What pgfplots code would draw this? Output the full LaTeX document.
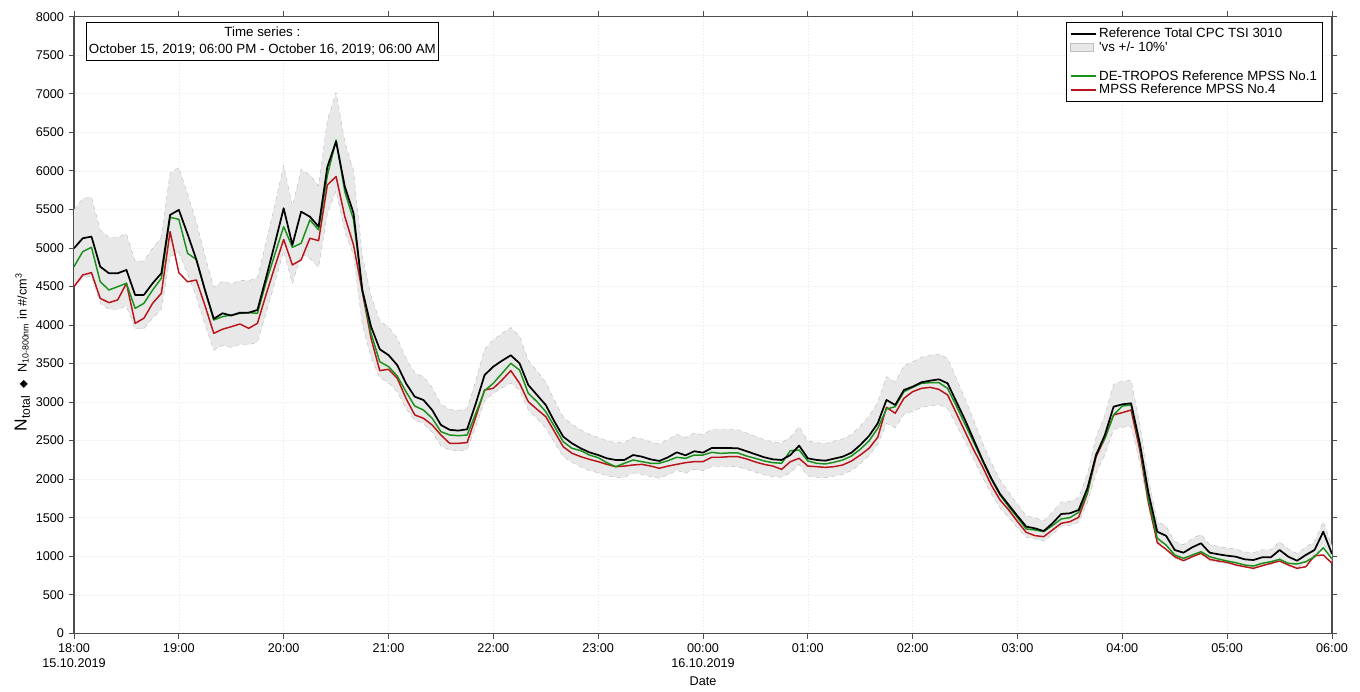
\documentclass[border=0pt]{standalone}
\usepackage{fontspec}
\setmainfont{Liberation Sans}
\newfontfamily\djv{DejaVu Sans}
\usepackage{pgfplots}
\pgfplotsset{compat=1.18}
\usepgfplotslibrary{fillbetween}
\usepackage{pgfplotstable}

\definecolor{cgreen}{RGB}{25,145,25}
\definecolor{cred}{RGB}{185,20,25}
\definecolor{bandc}{RGB}{232,232,232}

\pgfplotstableread{
i k g r
0 4995 4757 4497
1 5125 4952 4649
2 5147 5008 4679
3 4757 4562 4346
4 4671 4454 4290
5 4671 4497 4325
6 4714 4541 4541
7 4390 4216 4022
8 4390 4281 4087
9 4541 4454 4282
10 4671 4606 4411
11 5428 5397 5211
12 5493 5371 4679
13 5180 4930 4560
14 4850 4850 4584
15 4450 4450 4250
16 4080 4065 3892
17 4152 4108 3945
18 4122 4130 3978
19 4160 4151 4013
20 4160 4160 3956
21 4195 4151 4022
22 4620 4560 4400
23 5060 4920 4760
24 5514 5276 5110
25 5038 5008 4779
26 5470 5060 4844
27 5405 5363 5125
28 5276 5233 5094
29 6050 5940 5817
30 6380 6400 5925
31 5795 5730 5406
32 5450 5363 5038
33 4454 4454 4432
34 3980 3892 3828
35 3685 3524 3408
36 3610 3460 3425
37 3480 3339 3309
38 3244 3135 3049
39 3070 2949 2833
40 3027 2897 2790
41 2897 2790 2703
42 2703 2616 2573
43 2640 2573 2465
44 2630 2564 2465
45 2647 2573 2474
46 2984 2855 2811
47 3351 3148 3157
48 3460 3244 3179
49 3537 3373 3287
50 3607 3503 3408
51 3503 3416 3244
52 3222 3114 3005
53 3092 3005 2906
54 2962 2875 2811
55 2746 2681 2616
56 2551 2486 2421
57 2465 2400 2336
58 2400 2370 2292
59 2348 2313 2257
60 2313 2279 2227
61 2270 2214 2192
62 2249 2162 2162
63 2249 2206 2170
64 2313 2249 2184
65 2292 2227 2192
66 2257 2206 2170
67 2236 2206 2141
68 2284 2240 2170
69 2348 2284 2192
70 2309 2270 2214
71 2362 2313 2227
72 2344 2313 2227
73 2404 2348 2284
74 2404 2335 2284
75 2404 2340 2292
76 2400 2340 2292
77 2362 2300 2262
78 2323 2270 2223
79 2284 2236 2192
80 2257 2214 2170
81 2249 2206 2127
82 2313 2370 2227
83 2435 2378 2270
84 2270 2236 2170
85 2249 2206 2162
86 2240 2197 2153
87 2266 2219 2162
88 2292 2249 2184
89 2344 2301 2236
90 2443 2387 2313
91 2560 2495 2400
92 2724 2659 2543
93 3027 2910 2932
94 2962 2940 2855
95 3157 3135 3049
96 3200 3191 3135
97 3256 3243 3178
98 3278 3252 3191
99 3295 3252 3165
100 3243 3178 3092
101 3005 2949 2855
102 2768 2711 2616
103 2508 2474 2378
104 2249 2236 2162
105 2011 1998 1924
106 1808 1795 1730
107 1665 1643 1600
108 1522 1501 1449
109 1384 1354 1310
110 1362 1341 1267
111 1327 1319 1254
112 1427 1397 1341
113 1548 1484 1427
114 1557 1501 1449
115 1600 1570 1505
116 1881 1825 1816
117 2313 2327 2292
118 2573 2530 2530
119 2940 2833 2833
120 2971 2949 2863
121 2984 2962 2897
122 2465 2443 2378
123 1816 1730 1687
124 1318 1233 1176
125 1266 1146 1090
126 1081 1016 994
127 1046 973 942
128 1116 1016 994
129 1168 1059 1038
130 1046 994 960
131 1025 964 938
132 1007 938 921
133 994 916 886
134 960 886 864
135 951 873 843
136 986 908 877
137 986 929 908
138 1081 960 938
139 994 908 886
140 942 899 843
141 1016 929 864
142 1081 994 1007
143 1318 1111 1016
144 1029 964 908
}\data

\begin{document}
\begin{tikzpicture}[font=\fontsize{9.5}{11.5}\selectfont]
\begin{axis}[
  scale only axis,
  width=943.5pt, height=462.5pt,
  xmin=0, xmax=12, ymin=0, ymax=8000,
  xtick={0,1,...,12},
  xticklabels={18:00\\15.10.2019,19:00,20:00,21:00,22:00,23:00,00:00\\16.10.2019,01:00,02:00,03:00,04:00,05:00,06:00},
  xticklabel style={align=center, font=\fontsize{9.5}{11.5}\selectfont},
  yticklabel style={font=\fontsize{9.5}{11.5}\selectfont},
  ytick={0,500,...,8000},
  tick align=outside,
  major tick length=4pt,
  tick style={gray!60!black, line width=0.6pt},
  axis line style={gray!60!black, line width=0.8pt},
  /pgf/number format/1000 sep={},
  /pgf/number format/assume math mode=true,
  grid=major,
  x grid style={gray!22, dotted, line width=0.5pt},
  y grid style={gray!8, line width=0.4pt},
  xlabel={Date},
  xlabel style={font=\fontsize{9.5}{11.5}\selectfont},
  ylabel={{\fontsize{13}{15}\selectfont N\textsubscript{total}}\ \ {\djv\fontsize{8}{9}\selectfont ◆}\ \ N\textsubscript{10-800nm} in \#/cm\textsuperscript{3}},
  ylabel style={at={(axis description cs:-0.041,0.456)}, anchor=center},
  legend style={at={(axis description cs:0.9928,0.9914)}, anchor=north east,
    draw=black, line width=0.5pt, fill=white, font=\fontsize{10}{11.5}\selectfont,
    row sep=-2.4pt, inner sep=2.2pt},
  legend cell align=left,
  legend image code/.code={\draw[#1] (0cm,0cm) -- (0.66cm,0cm);},
]
\addplot[name path=up, draw=none, forget plot] table[x expr=\thisrow{i}/12, y expr=1.1*\thisrow{k}] {\data};
\addplot[name path=lo, draw=none, forget plot] table[x expr=\thisrow{i}/12, y expr=0.9*\thisrow{k}] {\data};
\addplot[fill=bandc, draw=none, forget plot] fill between[of=up and lo];
\addplot[gray!55, dashed, line width=0.3pt, forget plot] table[x expr=\thisrow{i}/12, y expr=1.1*\thisrow{k}] {\data};
\addplot[gray!55, dashed, line width=0.3pt, forget plot] table[x expr=\thisrow{i}/12, y expr=0.9*\thisrow{k}] {\data};
\addplot[cred, line width=1.1pt, line join=round, forget plot] table[x expr=\thisrow{i}/12, y=r] {\data};
\addplot[cgreen, line width=1.1pt, line join=round, forget plot] table[x expr=\thisrow{i}/12, y=g] {\data};
\addplot[black, line width=1.3pt, line join=round, forget plot] table[x expr=\thisrow{i}/12, y=k] {\data};

\addlegendimage{black, line width=1.3pt}
\addlegendentry{Reference Total CPC TSI 3010}
\addlegendimage{area legend, fill=bandc, draw=gray!50}
\addlegendentry{\textquotesingle vs +/- 10\%\textquotesingle}
\addlegendimage{empty legend}
\addlegendentry{\strut}
\addlegendimage{cgreen, line width=1.3pt}
\addlegendentry{DE-TROPOS Reference MPSS No.1}
\addlegendimage{cred, line width=1.3pt}
\addlegendentry{MPSS Reference MPSS No.4}

\node[draw=black, line width=0.5pt, fill=white, align=center, anchor=north west,
  inner xsep=2pt, inner ysep=3.5pt, font=\fontsize{10}{13}\selectfont]
  at (axis description cs:0.0095,0.9914)
  {Time series :\\October 15, 2019; 06:00 PM - October 16, 2019; 06:00 AM};
\end{axis}
\pgfresetboundingbox
\path ([xshift=-55.5pt,yshift=-43.3pt]current axis.south west) rectangle ([xshift=21pt,yshift=12.5pt]current axis.north east);
\end{tikzpicture}
\end{document}
